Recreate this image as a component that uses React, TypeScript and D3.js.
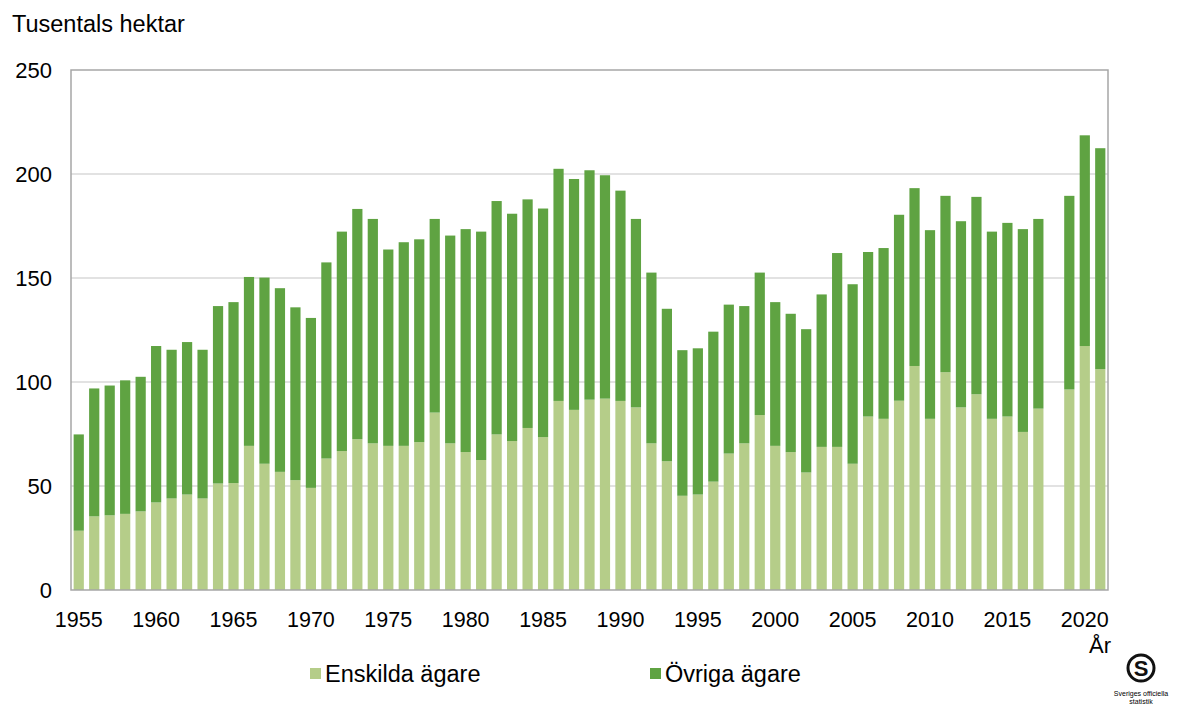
import React, { useEffect, useRef } from 'react';
import * as d3 from 'd3';

// år 1955-2021, 2018 saknas
const years: number[] = d3.range(1955, 2022);
const enskilda: (number | null)[] = [
  28.5, 35.4, 35.9, 36.6, 37.8, 42.1, 44.0, 45.9, 44.0, 51.2,
  51.4, 69.3, 60.7, 56.8, 52.8, 49.1, 63.2, 66.8, 72.5, 70.5,
  69.3, 69.3, 71.1, 85.3, 70.5, 66.3, 62.5, 74.8, 71.6, 77.9,
  73.5, 90.9, 86.6, 91.5, 92.0, 90.9, 87.8, 70.5, 61.9, 45.3,
  45.9, 52.1, 65.6, 70.5, 84.1, 69.3, 66.3, 56.5, 68.8, 68.8,
  60.7, 83.4, 82.3, 91.0, 107.7, 82.3, 104.7, 87.8, 94.1, 82.3,
  83.4, 76.0, 87.2, null, 96.4, 117.3, 106.2,
];
const ovriga: (number | null)[] = [
  46.3, 61.5, 62.4, 64.2, 64.7, 75.2, 71.5, 73.3, 71.5, 85.3,
  87.0, 81.2, 89.5, 88.3, 83.1, 81.7, 94.3, 105.5, 110.7, 107.9,
  94.4, 97.9, 97.5, 93.1, 99.9, 107.2, 109.8, 112.2, 109.3, 109.9,
  109.9, 111.6, 111.0, 110.3, 107.4, 101.1, 90.6, 82.1, 73.3, 70.0,
  70.3, 72.1, 71.6, 66.0, 68.5, 69.1, 66.5, 68.9, 73.3, 93.2,
  86.3, 79.1, 82.1, 89.4, 85.5, 90.7, 84.8, 89.5, 94.9, 90.0,
  93.1, 97.5, 91.2, null, 93.1, 101.3, 106.2,
];
const yTicks: number[] = [0, 50, 100, 150, 200, 250];
const xTickYears: number[] = d3.range(1955, 2021, 5);
const seriesNames: string[] = ['Enskilda ägare', 'Övriga ägare'];
const seriesColors: string[] = ['#b5cd89', '#5fa342'];

const W = 1178;
const H = 709;
const FONT = '"Liberation Sans", Arial, sans-serif';

export default function App() {
  const svgRef = useRef<SVGSVGElement>(null);

  useEffect(() => {
    const svg = d3.select(svgRef.current);
    svg.selectAll('*').remove();

    const left = 71, right = 1108, top = 70, bottom = 590;

    const x = d3.scaleBand<number>()
      .domain(years)
      .range([left, right])
      .paddingInner(0.34)
      .paddingOuter(0.17);
    const y = d3.scaleLinear().domain([0, 250]).range([bottom, top]);

    // rutnät
    svg.append('g')
      .selectAll('line')
      .data(yTicks.filter(d => d > 0 && d < 250))
      .enter().append('line')
      .attr('x1', left).attr('x2', right)
      .attr('y1', d => y(d)).attr('y2', d => y(d))
      .attr('stroke', '#d9d9d9')
      .attr('stroke-width', 1.5);

    const rows = years.map((yr, i) => ({ yr, a: enskilda[i], b: ovriga[i] }))
      .filter(r => r.a !== null && r.b !== null) as { yr: number; a: number; b: number }[];

    const g = svg.append('g');
    g.selectAll('.enskilda')
      .data(rows)
      .enter().append('rect')
      .attr('class', 'enskilda')
      .attr('x', d => x(d.yr)!)
      .attr('width', x.bandwidth())
      .attr('y', d => y(d.a))
      .attr('height', d => y(0) - y(d.a))
      .attr('fill', seriesColors[0]);

    g.selectAll('.ovriga')
      .data(rows)
      .enter().append('rect')
      .attr('class', 'ovriga')
      .attr('x', d => x(d.yr)!)
      .attr('width', x.bandwidth())
      .attr('y', d => y(d.a + d.b))
      .attr('height', d => y(d.a) - y(d.a + d.b))
      .attr('fill', seriesColors[1]);

    // ram
    svg.append('rect')
      .attr('x', left).attr('y', top)
      .attr('width', right - left).attr('height', bottom - top)
      .attr('fill', 'none')
      .attr('stroke', '#a6a6a6')
      .attr('stroke-width', 1.5);

    // y-axel
    svg.append('g')
      .selectAll('text')
      .data(yTicks)
      .enter().append('text')
      .attr('x', 52)
      .attr('y', d => y(d) + 8)
      .attr('text-anchor', 'end')
      .attr('font-family', FONT)
      .attr('font-size', 22)
      .attr('fill', '#000')
      .text(d => d);

    // x-axel
    svg.append('g')
      .selectAll('text')
      .data(xTickYears)
      .enter().append('text')
      .attr('x', d => x(d)! + x.bandwidth() / 2)
      .attr('y', 627)
      .attr('text-anchor', 'middle')
      .attr('font-family', FONT)
      .attr('font-size', 21.5)
      .attr('fill', '#000')
      .text(d => d);

    svg.append('text')
      .attr('x', 1100).attr('y', 653)
      .attr('text-anchor', 'middle')
      .attr('font-family', FONT).attr('font-size', 22)
      .text('År');

    svg.append('text')
      .attr('x', 12).attr('y', 32)
      .attr('font-family', FONT).attr('font-size', 23.5)
      .text('Tusentals hektar');

    // förklaring
    const legendX = [310, 650];
    const legend = svg.append('g');
    seriesNames.forEach((name, i) => {
      legend.append('rect')
        .attr('x', legendX[i]).attr('y', 668)
        .attr('width', 11).attr('height', 11)
        .attr('fill', seriesColors[i]);
      legend.append('text')
        .attr('x', legendX[i] + 15).attr('y', 682)
        .attr('font-family', FONT).attr('font-size', 23.5)
        .text(name);
    });

    // SOS-logga
    const logo = svg.append('g').attr('transform', 'translate(1141,668)');
    logo.append('circle').attr('r', 13).attr('fill', 'none').attr('stroke', '#111').attr('stroke-width', 3);
    logo.append('text')
      .attr('y', 8).attr('text-anchor', 'middle')
      .attr('font-family', FONT).attr('font-size', 22).attr('font-weight', 'bold')
      .attr('fill', '#111')
      .text('S');
    logo.append('text')
      .attr('y', 28).attr('text-anchor', 'middle')
      .attr('font-family', FONT).attr('font-size', 7)
      .text('Sveriges officiella');
    logo.append('text')
      .attr('y', 36).attr('text-anchor', 'middle')
      .attr('font-family', FONT).attr('font-size', 7)
      .text('statistik');
  }, []);

  return (
    <svg ref={svgRef} width={W} height={H}
      style={{ position: 'absolute', left: 0, top: 0, background: '#fff' }} />
  );
}
